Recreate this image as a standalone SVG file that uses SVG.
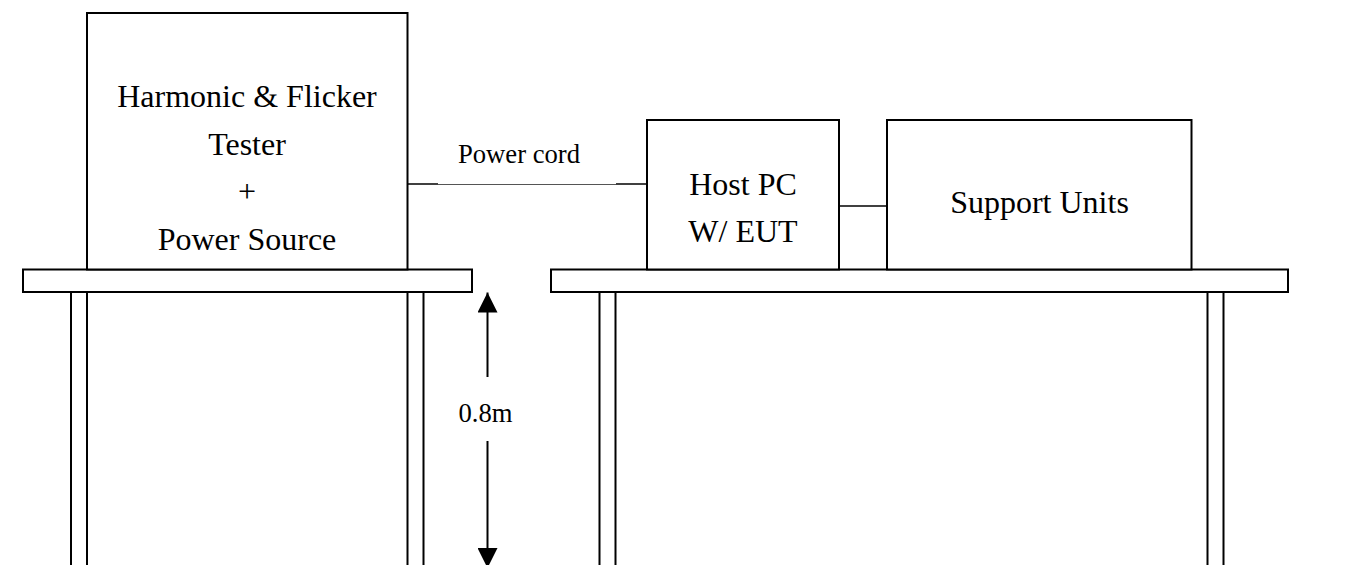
<svg xmlns="http://www.w3.org/2000/svg" width="1358" height="565" viewBox="0 0 1358 565">
<style>
.box{fill:#fff;stroke:#000;stroke-width:2}
.tbl{fill:#fff;stroke:#000;stroke-width:2}
.big{font-family:"Liberation Serif","Times New Roman",serif;font-size:32px;fill:#000;text-anchor:middle}
.small{font-family:"Liberation Serif","Times New Roman",serif;font-size:26.67px;fill:#000;text-anchor:middle}
.wire{stroke:#000;stroke-width:1.5;fill:none}
.cord{stroke:#555;stroke-width:1;fill:none}
</style>
<defs>
<marker id="ah" viewBox="0 0 20 20" refX="20" refY="10" markerWidth="20" markerHeight="20" markerUnits="userSpaceOnUse" orient="auto">
<path d="M0,0 L20,10 L0,20 Z" fill="#000"/>
</marker>
</defs>
<rect width="1358" height="565" fill="#fff"/>
<g id="left-table">
<rect class="tbl" x="71" y="292" width="16" height="280"/>
<rect class="tbl" x="407.5" y="292" width="16" height="280"/>
<rect class="tbl" x="23" y="269.5" width="449" height="22.5"/>
</g>
<g id="right-table">
<rect class="tbl" x="599.5" y="292" width="16" height="280"/>
<rect class="tbl" x="1207.5" y="292" width="16" height="280"/>
<rect class="tbl" x="551" y="269.5" width="737" height="22.5"/>
</g>
<g id="tester">
<rect class="box" x="87" y="13" width="320.5" height="256.5"/>
<text class="big" x="247" y="107">Harmonic &amp; Flicker</text>
<text class="big" x="247" y="154.5">Tester</text>
<text class="big" x="247" y="202">+</text>
<text class="big" x="247" y="249.5">Power Source</text>
</g>
<g id="host-pc">
<rect class="box" x="647" y="120" width="192" height="149.5"/>
<text class="big" x="743" y="195">Host PC</text>
<text class="big" x="743" y="241.5">W/ EUT</text>
</g>
<g id="support-units">
<rect class="box" x="887" y="120" width="304.5" height="149.5"/>
<text class="big" x="1039.5" y="213">Support Units</text>
</g>
<g id="connectors">
<line class="wire" x1="407.5" y1="184" x2="438" y2="184"/>
<line class="cord" x1="438" y1="184.5" x2="616" y2="184.5"/>
<line class="wire" x1="616" y1="184" x2="647" y2="184"/>
<text class="small" x="519" y="163">Power cord</text>
<line class="wire" x1="839" y1="206" x2="887" y2="206"/>
<line x1="487.5" y1="377" x2="487.5" y2="292.5" stroke="#000" stroke-width="2" marker-end="url(#ah)"/>
<line x1="487.5" y1="441" x2="487.5" y2="568" stroke="#000" stroke-width="2" marker-end="url(#ah)"/>
<text class="small" x="485.5" y="421.5">0.8m</text>
</g>
</svg>
